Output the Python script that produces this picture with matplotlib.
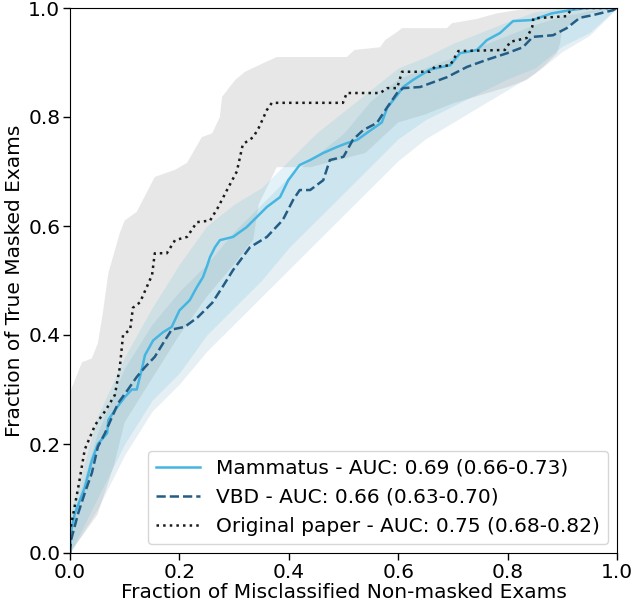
import numpy as np
import matplotlib
matplotlib.use("Agg")
import matplotlib.pyplot as plt

# ---------------- data ----------------
orig_x = [0, 0.0, 0.015, 0.027, 0.046, 0.064, 0.082, 0.091, 0.097, 0.11, 0.115, 0.128, 0.15, 0.155,
          0.177, 0.192, 0.214, 0.232, 0.256, 0.27, 0.287, 0.305, 0.316, 0.335, 0.345, 0.36, 0.369,
          0.499, 0.506, 0.567, 0.58, 0.598, 0.607, 0.658, 0.667, 0.695, 0.71, 0.795, 0.805, 0.835,
          0.845, 0.847, 0.908, 0.918, 1.0]
orig_y = [0, 0.04, 0.12, 0.19, 0.235, 0.26, 0.29, 0.34, 0.40, 0.41, 0.45, 0.46, 0.51, 0.55,
          0.55, 0.574, 0.58, 0.607, 0.61, 0.633, 0.666, 0.70, 0.75, 0.763, 0.78, 0.813, 0.826,
          0.826, 0.844, 0.844, 0.853, 0.853, 0.883, 0.883, 0.892, 0.895, 0.921, 0.923, 0.938, 0.945,
          0.965, 0.981, 0.985, 1.0, 1.0]

mam_x = [0, 0.002, 0.009, 0.027, 0.04, 0.051, 0.068, 0.07, 0.082, 0.1, 0.113, 0.122, 0.132, 0.137,
         0.152, 0.17, 0.186, 0.2, 0.219, 0.232, 0.243, 0.25, 0.256, 0.265, 0.274, 0.298, 0.323,
         0.342, 0.36, 0.384, 0.399, 0.42, 0.439, 0.463, 0.488, 0.506, 0.525, 0.543, 0.57, 0.58,
         0.598, 0.609, 0.627, 0.658, 0.695, 0.713, 0.744, 0.762, 0.786, 0.81, 0.846, 0.88, 0.914,
         0.945, 1.0]
mam_y = [0, 0.04, 0.073, 0.12, 0.17, 0.2, 0.22, 0.244, 0.262, 0.286, 0.30, 0.30, 0.34, 0.363,
         0.39, 0.405, 0.415, 0.445, 0.464, 0.488, 0.506, 0.525, 0.543, 0.561, 0.574, 0.58, 0.598,
         0.617, 0.635, 0.653, 0.684, 0.712, 0.721, 0.734, 0.745, 0.752, 0.758, 0.771, 0.79, 0.817,
         0.84, 0.855, 0.868, 0.887, 0.895, 0.917, 0.923, 0.941, 0.954, 0.976, 0.978, 0.99, 0.996,
         1.0, 1.0]

vbd_x = [0, 0.002, 0.015, 0.027, 0.04, 0.051, 0.064, 0.077, 0.088, 0.106, 0.122, 0.137, 0.155,
         0.174, 0.186, 0.21, 0.234, 0.26, 0.28, 0.298, 0.329, 0.36, 0.389, 0.408, 0.42, 0.439,
         0.463, 0.475, 0.5, 0.517, 0.536, 0.561, 0.58, 0.598, 0.609, 0.64, 0.689, 0.726, 0.762,
         0.799, 0.828, 0.846, 0.883, 0.908, 0.932, 0.956, 0.993, 1.0]
vbd_y = [0, 0.024, 0.073, 0.11, 0.147, 0.195, 0.22, 0.25, 0.275, 0.30, 0.323, 0.341, 0.36,
         0.391, 0.41, 0.415, 0.433, 0.459, 0.49, 0.519, 0.561, 0.58, 0.611, 0.648, 0.666, 0.666,
         0.684, 0.721, 0.727, 0.758, 0.776, 0.789, 0.818, 0.844, 0.853, 0.855, 0.873, 0.892, 0.905,
         0.917, 0.928, 0.947, 0.95, 0.963, 0.982, 0.987, 0.996, 1.0]

# confidence bands
orig_up_x = [0, 0.004, 0.022, 0.04, 0.051, 0.06, 0.07, 0.091, 0.1, 0.122, 0.155, 0.192, 0.214,
             0.241, 0.26, 0.274, 0.278, 0.302, 0.32, 0.356, 0.378, 0.506, 0.52, 0.567, 0.576,
             0.598, 0.607, 0.689, 0.698, 0.744, 0.78, 0.817, 0.85, 1.0]
orig_up_y = [0.29, 0.305, 0.35, 0.357, 0.385, 0.44, 0.513, 0.587, 0.61, 0.626, 0.69, 0.703, 0.716,
             0.763, 0.77, 0.80, 0.837, 0.868, 0.883, 0.90, 0.91, 0.91, 0.923, 0.928, 0.941,
             0.956, 0.963, 0.963, 0.972, 0.98, 0.99, 0.996, 1.0, 1.0]
orig_lo_x = [0, 0.05, 0.08, 0.1, 0.15, 0.2, 0.25, 0.3, 0.335, 0.345, 0.378, 0.44, 0.54, 0.6,
             0.65, 0.7, 0.75, 0.8, 0.835, 0.865, 0.89, 0.896, 0.9, 0.95, 1.0]
orig_lo_y = [0, 0.07, 0.16, 0.24, 0.32, 0.40, 0.47, 0.53, 0.575, 0.64, 0.708, 0.708, 0.734, 0.79,
             0.805, 0.825, 0.84, 0.855, 0.868, 0.892, 0.917, 0.935, 0.96, 0.99, 1.0]

band_x = [0, 0.05, 0.1, 0.15, 0.2, 0.25, 0.3, 0.35, 0.4, 0.45, 0.5, 0.55, 0.6, 0.65, 0.7,
          0.75, 0.8, 0.85, 0.9, 0.95, 1.0]
mam_up = [0.07, 0.25, 0.36, 0.45, 0.53, 0.60, 0.64, 0.67, 0.72, 0.77, 0.81, 0.85, 0.89, 0.91,
          0.935, 0.955, 0.975, 0.993, 1.0, 1.0, 1.0]
mam_lo = [0, 0.10, 0.20, 0.28, 0.33, 0.40, 0.45, 0.50, 0.56, 0.61, 0.66, 0.71, 0.76, 0.795,
          0.82, 0.845, 0.87, 0.89, 0.93, 0.955, 1.0]
vbd_up = [0.05, 0.22, 0.34, 0.42, 0.48, 0.53, 0.59, 0.64, 0.69, 0.73, 0.77, 0.83, 0.87, 0.89,
          0.91, 0.93, 0.95, 0.97, 0.985, 0.995, 1.0]
vbd_lo = [0, 0.08, 0.18, 0.26, 0.31, 0.37, 0.42, 0.47, 0.52, 0.57, 0.62, 0.67, 0.72, 0.76,
          0.79, 0.82, 0.85, 0.88, 0.92, 0.95, 1.0]

labels = ["Mammatus - AUC: 0.69 (0.66-0.73)",
          "VBD - AUC: 0.66 (0.63-0.70)",
          "Original paper - AUC: 0.75 (0.68-0.82)"]
xticks = [0.0, 0.2, 0.4, 0.6, 0.8, 1.0]
yticks = [0.0, 0.2, 0.4, 0.6, 0.8, 1.0]

# ---------------- plot ----------------
FS = 14.5
plt.rcParams['font.family'] = ['DejaVu Sans']
fig = plt.figure(figsize=(6.33, 6.07), dpi=100)
ax = fig.add_axes([70 / 633, 1 - 553 / 607, 547 / 633, 545 / 607])

c_mam = "#45b6e2"
c_vbd = "#235c84"

ax.fill(np.r_[orig_up_x, orig_lo_x[::-1]], np.r_[orig_up_y, orig_lo_y[::-1]],
        color="#a0a0a0", alpha=0.25, lw=0)
ax.fill_between(band_x, mam_lo, mam_up, color="#7cc8e0", alpha=0.22, lw=0)
ax.fill_between(band_x, vbd_lo, vbd_up, color="#5a9fb8", alpha=0.15, lw=0)

ax.plot(mam_x, mam_y, color=c_mam, lw=1.8, ls="-", label=labels[0])
ax.plot(vbd_x, vbd_y, color=c_vbd, lw=1.8, ls=(0, (3.7, 1.6)), label=labels[1])
ax.plot(orig_x, orig_y, color="#1a1a1a", lw=1.8, ls=(0, (1, 1.65)), label=labels[2])

ax.set_xlim(0, 1)
ax.set_ylim(0, 1)
ax.set_xticks(xticks)
ax.set_yticks(yticks)
ax.set_xticklabels([f"{t:.1f}" for t in xticks], fontsize=FS)
ax.set_yticklabels([f"{t:.1f}" for t in yticks], fontsize=FS)
ax.tick_params(length=5, width=1, pad=2)
ax.set_xlabel("Fraction of Misclassified Non-masked Exams", fontsize=FS, labelpad=1)
ax.set_ylabel("Fraction of True Masked Exams", fontsize=FS, labelpad=3)

ax.legend(loc="lower right", fontsize=FS, framealpha=0.8, edgecolor="#cccccc",
          borderaxespad=0.45, labelspacing=0.5, handlelength=2.2)

fig.savefig("out.png", dpi=100)
